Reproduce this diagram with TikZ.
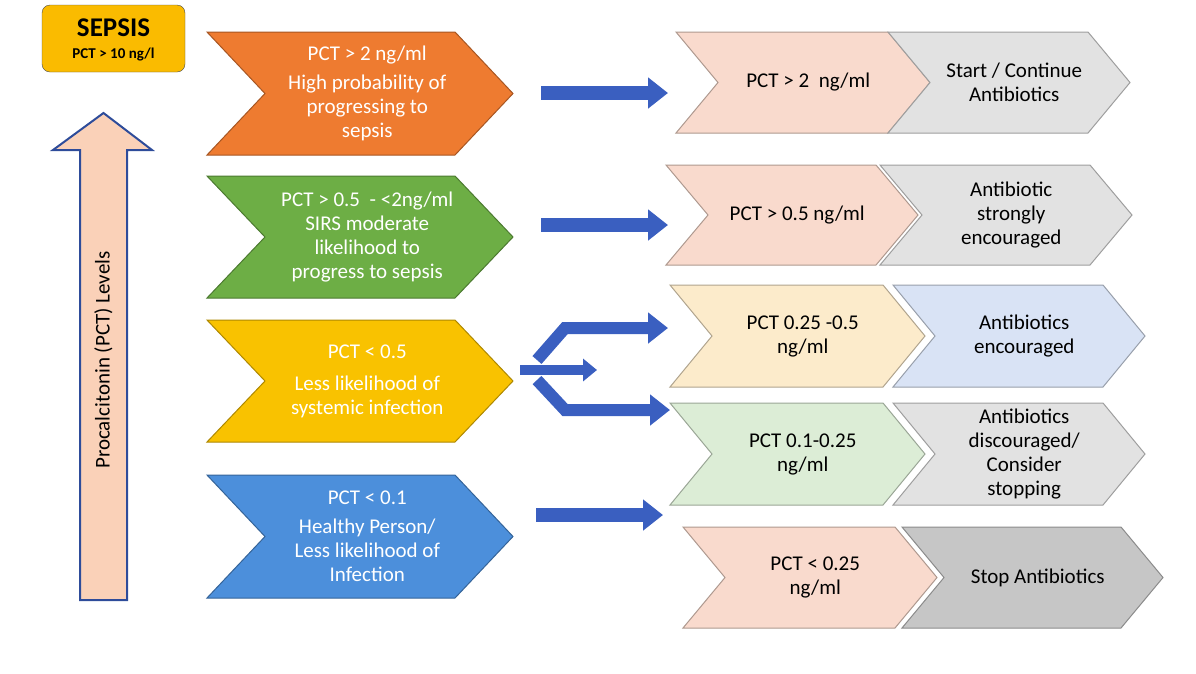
\documentclass[tikz,border=0pt]{standalone}
\usepackage{fontspec}
\setmainfont{Carlito}
\usetikzlibrary{arrows.meta}
\definecolor{cOr}{HTML}{EE7B30}
\definecolor{cGr}{HTML}{6DAE45}
\definecolor{cYe}{HTML}{F9C200}
\definecolor{cBl}{HTML}{4C8FDB}
\definecolor{cPk}{HTML}{F9DACD}
\definecolor{cGy}{HTML}{E2E2E2}
\definecolor{cLy}{HTML}{FCEBCB}
\definecolor{cLb}{HTML}{D9E3F5}
\definecolor{cLg}{HTML}{DCEDD6}
\definecolor{cDg}{HTML}{C6C6C6}
\definecolor{cArr}{HTML}{3A5FC0}
\tikzset{
  x=1pt,y=-1pt,
  chev/.style={draw=#1!70!black,line width=1pt,fill=#1},
  ltxt/.style={text=white,align=center,font=\fontsize{21}{24}\selectfont},
  rtxt/.style={text=black,align=center,font=\fontsize{21}{24}\selectfont},
  blk/.style={draw=cArr,line width=14pt,-{Triangle[length=20pt,width=30pt]}},
}
\newcommand{\mychev}[7]{%
  \path[chev=#7] (#2,#3) -- (#4-#6,#3) -- (#4,{(#3+#5)/2}) -- (#4-#6,#5) -- (#2,#5) -- (#2+#6,{(#3+#5)/2}) -- cycle;
  \coordinate (#1) at ({(#2+#4)/2+#6/8},{(#3+#5)/2});
}
\begin{document}
\begin{tikzpicture}
\useasboundingbox (0,0) rectangle (1196,673);
\node[draw=black!70,fill=cYe!90!orange,rounded corners=8pt,minimum width=143pt,minimum height=67pt,inner sep=0pt] (sepsis) at (113.5,38.5) {};
\node[font=\fontsize{27}{30}\selectfont\bfseries,inner sep=0pt] (sepsist) at (113.5,28) {SEPSIS};
\node[font=\fontsize{15}{17}\selectfont\bfseries,inner sep=0pt] (sepsisv) at (113.5,55) {PCT > 10 ng/l};
\path[draw=cArr!80!black,line width=2pt,fill=cPk!90!orange] (80,600) -- (80,150) -- (53,150) -- (103.5,113) -- (152,150) -- (127,150) -- (127,600) -- cycle;
\node[rotate=90,font=\fontsize{21}{24}\selectfont] (lvl) at (103.5,360) {Procalcitonin (PCT) Levels};
\mychev{L1}{207}{32}{513}{155}{58}{cOr}
\node[ltxt] (l1) at (L1) {PCT > 2 ng/ml\\[5pt]High probability of\\progressing to\\sepsis};
\mychev{L2}{207}{176}{513}{298}{58}{cGr}
\node[ltxt] (l2) at (L2) {PCT > 0.5 \ - <2ng/ml\\SIRS moderate\\likelihood to\\progress to sepsis};
\mychev{L3}{207}{320}{513}{442}{58}{cYe}
\node[ltxt] (l3) at (L3) {PCT < 0.5\\[8pt]Less likelihood of\\systemic infection};
\mychev{L4}{207}{475}{513}{598}{58}{cBl}
\node[ltxt] (l4) at (L4) {PCT < 0.1\\[5pt]Healthy Person/\\Less likelihood of\\Infection};
\mychev{A1}{676}{32}{930}{133}{42}{cPk}
\node[rtxt] (a1) at (A1) {PCT > 2 \ ng/ml};
\mychev{B1}{888}{32}{1130}{133}{42}{cGy}
\node[rtxt] (b1) at (B1) {Start / Continue\\Antibiotics};
\mychev{A2}{666}{165}{918}{265}{42}{cPk}
\node[rtxt] (a2) at (A2) {PCT > 0.5 ng/ml};
\mychev{B2}{880}{165}{1132}{265}{42}{cGy}
\node[rtxt] (b2) at (B2) {Antibiotic\\strongly\\encouraged};
\mychev{A3}{670}{285}{925}{387}{42}{cLy}
\node[rtxt] (a3) at (A3) {PCT 0.25 -0.5\\ng/ml};
\mychev{B3}{893}{285}{1145}{387}{42}{cLb}
\node[rtxt] (b3) at (B3) {Antibiotics\\encouraged};
\mychev{A4}{670}{403}{925}{505}{42}{cLg}
\node[rtxt] (a4) at (A4) {PCT 0.1-0.25\\ng/ml};
\mychev{B4}{893}{403}{1145}{505}{42}{cGy}
\node[rtxt] (b4) at (B4) {Antibiotics\\discouraged/\\Consider\\stopping};
\mychev{A5}{683}{527}{937}{628}{42}{cPk}
\node[rtxt] (a5) at (A5) {PCT < 0.25\\ng/ml};
\mychev{B5}{902}{527}{1163}{628}{42}{cDg}
\node[rtxt] (b5) at (B5) {Stop Antibiotics};
\coordinate (s1) at (541,93); \coordinate (e1) at (668,93);
\coordinate (s2) at (541,225); \coordinate (e2) at (668,225);
\coordinate (s4) at (536,515); \coordinate (e4) at (663,515);
\coordinate (s3) at (520,370); \coordinate (e3) at (597,370);
\coordinate (su) at (537,360); \coordinate (eu) at (668,328);
\coordinate (sd) at (537,380); \coordinate (ed) at (670,410);
\draw[blk] (s1) -- (e1);
\draw[blk] (s2) -- (e2);
\draw[blk] (s4) -- (e4);
\draw[blk,line width=10pt,-{Triangle[length=14pt,width=22pt]}] (s3) -- (e3);
\draw[blk,line width=12pt] (su) -- (565,328) -- (eu);
\draw[blk,line width=12pt] (sd) -- (565,410) -- (ed);
\end{tikzpicture}
\end{document}
